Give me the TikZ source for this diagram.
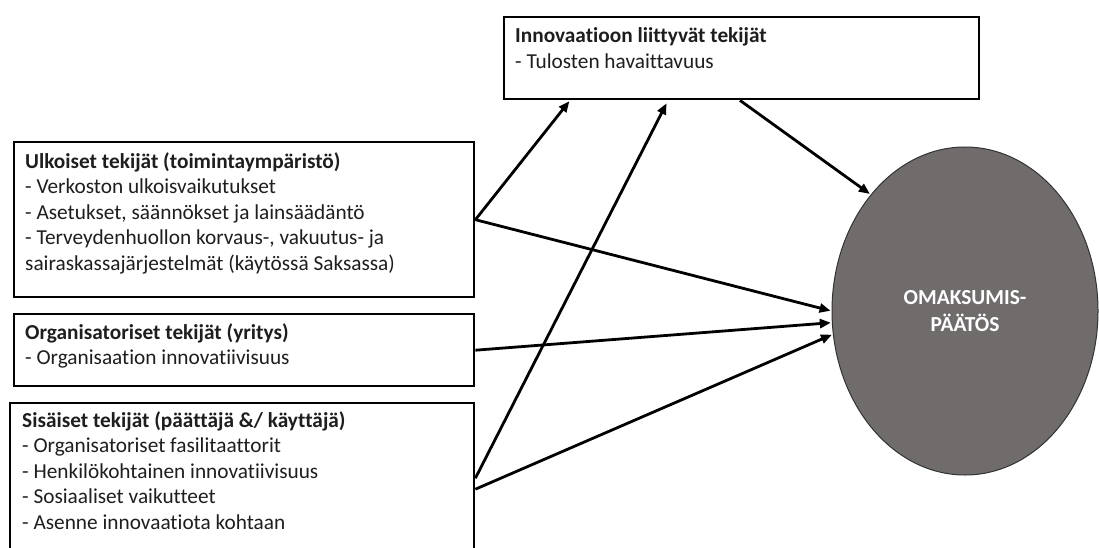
\documentclass[tikz,border=0pt]{standalone}
\usepackage{fontspec}
\setmainfont{Carlito}[Ligatures=NoCommon]
\usetikzlibrary{arrows.meta,calc,shapes.geometric}
\definecolor{ellgray}{RGB}{112,108,108}
\definecolor{txtgray}{RGB}{30,30,30}
\tikzset{
  factorbox/.style={draw=black,line width=2.4pt,rectangle,inner sep=0pt,anchor=north west},
  boxtext/.style={anchor=base west,inner sep=0pt,align=left,text=txtgray,font=\fontsize{21.3}{25.5}\selectfont},
  conn/.style={line width=2.8pt,-{Triangle[length=11pt,width=9pt]},shorten >=1pt},
}
\begin{document}
\begin{tikzpicture}[x=1pt,y=-1pt]
\clip (0,0) rectangle (1099,548);
\fill[white] (0,0) rectangle (1099,548);
% boxes
\node[factorbox,minimum width=475pt,minimum height=82pt] (inn) at (503,16) {};
\node[factorbox,minimum width=460pt,minimum height=155pt] (ulk) at (13,141) {};
\node[factorbox,minimum width=460pt,minimum height=72pt] (org) at (13,313) {};
\node[factorbox,minimum width=464pt,minimum height=172pt] (sis) at (9,402) {};
% texts (anchored at the baseline of the last line)
\node[boxtext] (inntxt) at (515,68.5) {\textbf{Innovaatioon liittyvät tekijät}\\- Tulosten havaittavuus};
\node[boxtext] (ulktxt) at (25,270) {\textbf{Ulkoiset tekijät (toimintaympäristö)}\\- Verkoston ulkoisvaikutukset\\- Asetukset, säännökset ja lainsäädäntö\\- Terveydenhuollon korvaus-, vakuutus- ja\\sairaskassajärjestelmät (käytössä Saksassa)};
\node[boxtext] (orgtxt) at (25,364.5) {\textbf{Organisatoriset tekijät (yritys)}\\- Organisaation innovatiivisuus};
\node[boxtext] (sistxt) at (22,529) {\textbf{Sisäiset tekijät (päättäjä \&/ käyttäjä)}\\- Organisatoriset fasilitaattorit\\- Henkilökohtainen innovatiivisuus\\- Sosiaaliset vaikutteet\\- Asenne innovaatiota kohtaan};
% ellipse
\node[ellipse,draw=black!80,line width=1pt,fill=ellgray,minimum width=266pt,minimum height=328pt,inner sep=0pt,
  align=center,text=white,font=\fontsize{21.4}{27}\selectfont\bfseries] (ell) at (965,311) {OMAKSUMIS-\\PÄÄTÖS};
% connectors
\draw[conn] (ulk.east) -- ($(inn.south west)+(67,0)$);
\draw[conn] (ulk.east) -- (ell.180);
\draw[conn] ($(inn.south west)+(237,0)$) -- (ell.129);
\draw[conn] (org.east) -- (ell.185);
\draw[conn] ($(sis.east)+(0,-11)$) -- ($(inn.south west)+(164,2)$);
\draw[conn] (sis.east) -- (ell.190);
\end{tikzpicture}
\end{document}
